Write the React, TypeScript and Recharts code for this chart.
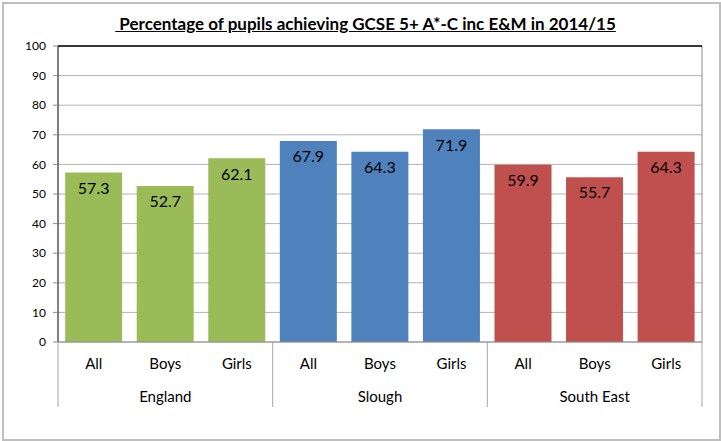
import React from 'react';
import { Bar, BarChart, CartesianGrid, Cell, LabelList, ReferenceLine, XAxis, YAxis } from 'recharts';

const groups = ['England', 'Slough', 'South East'];
const subgroups = ['All', 'Boys', 'Girls'];
const englandValues = [57.3, 52.7, 62.1];
const sloughValues = [67.9, 64.3, 71.9];
const southEastValues = [59.9, 55.7, 64.3];
const groupColors = ['#9BBB59', '#4F81BD', '#C0504D'];
const yTicks = [0, 10, 20, 30, 40, 50, 60, 70, 80, 90, 100];

const font = 'Lato, "Open Sans", sans-serif';

const valuesByGroup = [englandValues, sloughValues, southEastValues];
const data = groups.flatMap((g, gi) =>
  subgroups.map((s, si) => ({ key: `${g}-${s}`, group: g, sub: s, value: valuesByGroup[gi][si], gi })),
);

const XTick = (props: any) => {
  const { x, y, payload, index } = props;
  const half = payload?.offset ?? 35.8;
  const row = data[index];
  const pos = index % 3;
  return (
    <g>
      <text x={x} y={y + 27} textAnchor="middle" fontSize={15} fill="#000" fontFamily={font}>
        {row.sub}
      </text>
      {pos === 1 && (
        <text x={x} y={y + 60} textAnchor="middle" fontSize={15} fill="#000" fontFamily={font}>
          {row.group}
        </text>
      )}
      {pos === 0 && <line x1={x - half} x2={x - half} y1={y} y2={y + 65} stroke="#a6a6a6" />}
      {index === data.length - 1 && <line x1={x + half} x2={x + half} y1={y} y2={y + 65} stroke="#a6a6a6" />}
    </g>
  );
};

export default function App() {
  return (
    <div style={{ position: 'absolute', left: 0, top: 0, width: 721, height: 441, background: '#fff' }}>
      <div
        style={{
          position: 'absolute',
          left: 2,
          top: 2,
          width: 715,
          height: 435,
          border: '2px solid #bfbfbf',
        }}
      />
      <div
        style={{
          position: 'absolute',
          left: 10,
          top: 13,
          width: 711,
          textAlign: 'center',
          fontFamily: font,
          fontWeight: 700,
          fontSize: 17,
          textDecoration: 'underline',
          color: '#000',
        }}
      >
        {'\u00a0Percentage of pupils achieving GCSE 5+ A*-C inc E&M in 2014/15'}
      </div>
      <div style={{ position: 'absolute', left: 0, top: 0 }}>
        <BarChart
          width={721}
          height={441}
          data={data}
          margin={{ top: 46, right: 19, bottom: 34, left: 0 }}
          barCategoryGap="10%"
        >
          <CartesianGrid horizontal vertical={false} stroke="#b3b3b3" />
          <CartesianGrid
            horizontal={false}
            vertical
            stroke="#8c8c8c"
            verticalCoordinatesGenerator={({ offset }: any) => [offset.left + offset.width]}
          />
          <YAxis
            type="number"
            domain={[0, 100]}
            ticks={yTicks}
            width={58}
            interval={0}
            axisLine={{ stroke: '#000' }}
            tickLine={{ stroke: '#8c8c8c' }}
            tickSize={5}
            tickMargin={7}
            tick={{ fontSize: 12, fill: '#000', fontFamily: font }}
          />
          <XAxis
            dataKey="key"
            height={65}
            interval={0}
            axisLine={{ stroke: '#8c8c8c' }}
            tickLine={false}
            tickSize={0}
            tickMargin={0}
            tick={<XTick />}
          />
          <ReferenceLine y={100} stroke="#000" strokeWidth={1.5} />
          <Bar dataKey="value" isAnimationActive={false}>
            {data.map((d) => (
              <Cell key={d.key} fill={groupColors[d.gi]} />
            ))}
            <LabelList
              dataKey="value"
              position="insideTop"
              offset={10}
              fontSize={16}
              fill="#000"
              fontFamily={font}
            />
          </Bar>
        </BarChart>
      </div>
    </div>
  );
}
